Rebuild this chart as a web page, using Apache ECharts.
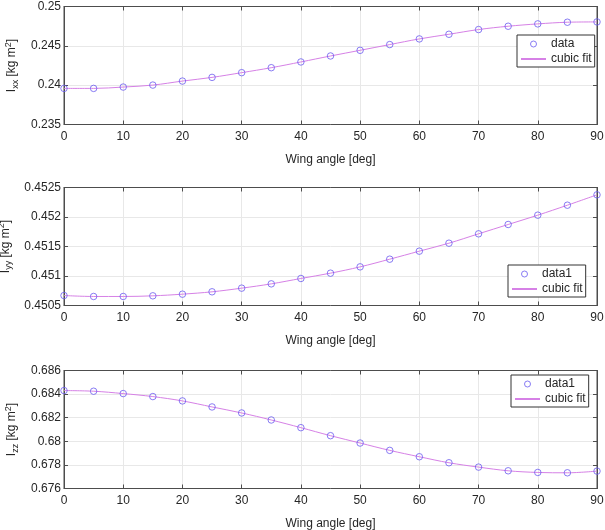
<!DOCTYPE html>
<html><head><meta charset="utf-8">
<script src="https://cdn.jsdelivr.net/npm/echarts@6/dist/echarts.min.js"></script>
<style>html,body{margin:0;padding:0;background:#fff}#c{width:605px;height:530px}</style>
</head><body><div id="c"></div>
<script>
const angles = [0,5,10,15,20,25,30,35,40,45,50,55,60,65,70,75,80,85,90];
const ixx = [0.23959,0.23959,0.23976,0.24001,0.24052,0.24099,0.24159,0.24222,0.24295,0.24371,0.24443,0.24516,0.24588,0.24647,0.24707,0.24749,0.24779,0.24800,0.24804];
const iyy = [0.450669,0.450653,0.450653,0.450664,0.450692,0.450732,0.450794,0.450867,0.450958,0.451048,0.451155,0.451285,0.451421,0.451556,0.451715,0.451873,0.452031,0.452200,0.452376];
const izz = [0.684300,0.684244,0.684045,0.683790,0.683422,0.682912,0.682402,0.681807,0.681156,0.680476,0.679853,0.679230,0.678691,0.678181,0.677813,0.677501,0.677360,0.677331,0.677473];
const yLimits = [[0.235,0.25,0.005],[0.4505,0.4525,0.0005],[0.676,0.686,0.002]];
const yNames = ['xx','yy','zz'];
const legendNames = [['data','cubic fit'],['data1','cubic fit'],['data1','cubic fit']];
const xLabel = 'Wing angle [deg]';

const FONT = 'Liberation Sans, Arial, Helvetica, sans-serif';
const AX = '#4d4d4d';
const TXT = '#262626';
const MK = '#6b5cf0';
const LN = '#d681e6';
const grids = [
  {left:64, right:8, top:6.5, height:118},
  {left:64, right:8, top:187.5, height:118},
  {left:64, right:8, top:370.5, height:118}
];
const legendPos = [
  {left:517, top:35},
  {left:508, top:265},
  {left:511, top:375}
];
const xAxis=[], yAxis=[], series=[], legend=[];
function trimNum(v){ return String(parseFloat(v.toFixed(6))); }
const tick={show:true,inside:true,length:4,lineStyle:{color:AX}};
const mkStyle={color:'rgba(255,255,255,0)',borderColor:MK,borderWidth:1};
grids.forEach((g,i)=>{
  const [ymin,ymax,yint]=yLimits[i];
  xAxis.push({type:'value',gridIndex:i,position:'bottom',min:0,max:90,interval:10,
    axisLine:{onZero:false,lineStyle:{color:AX,width:1}},axisTick:tick,
    axisLabel:{color:TXT,fontFamily:FONT,fontSize:12,margin:6},
    splitLine:{show:true,lineStyle:{color:'#e8e8e8',width:1}},
    name:xLabel,nameLocation:'middle',nameGap:29,nameTextStyle:{color:TXT,fontFamily:FONT,fontSize:12}});
  xAxis.push({type:'value',gridIndex:i,position:'top',min:0,max:90,interval:10,
    axisLine:{onZero:false,lineStyle:{color:AX,width:1}},axisTick:tick,
    axisLabel:{show:false},splitLine:{show:false}});
  yAxis.push({type:'value',gridIndex:i,position:'left',min:ymin,max:ymax,interval:yint,
    axisLine:{show:true,onZero:false,lineStyle:{color:AX,width:1}},axisTick:tick,
    axisLabel:{color:TXT,fontFamily:FONT,fontSize:12,margin:3,formatter:v=>trimNum(v)},
    splitLine:{show:true,lineStyle:{color:'#e8e8e8',width:1}},
    name:'I{sub|'+yNames[i]+'} [kg m{sup|2}]',nameLocation:'middle',nameGap:44,nameRotate:90,
    nameTextStyle:{color:TXT,fontFamily:FONT,fontSize:12,
      rich:{sub:{fontSize:9,fontFamily:FONT,color:TXT,verticalAlign:'bottom',padding:[7,0,0,0]},
            sup:{fontSize:9,fontFamily:FONT,color:TXT,verticalAlign:'top',padding:[0,0,7,0]}}}});
  yAxis.push({type:'value',gridIndex:i,position:'right',min:ymin,max:ymax,interval:yint,
    axisLine:{show:true,onZero:false,lineStyle:{color:AX,width:1}},axisTick:tick,
    axisLabel:{show:false},splitLine:{show:false}});
  const vals=[ixx,iyy,izz][i];
  const pts=angles.map((a,k)=>[a,vals[k]]);
  series.push({name:legendNames[i][0],type:'scatter',xAxisIndex:2*i,yAxisIndex:2*i,data:pts,
    symbol:'circle',symbolSize:6.5,itemStyle:mkStyle,z:4,silent:true});
  series.push({name:'cubic fit',type:'line',xAxisIndex:2*i,yAxisIndex:2*i,data:pts,smooth:0.35,
    symbol:'none',showSymbol:false,lineStyle:{color:LN,width:1},itemStyle:{color:LN},z:3,silent:true});
  legend.push({orient:'vertical',left:legendPos[i].left,top:legendPos[i].top,
    data:[{name:legendNames[i][0],icon:'circle',itemStyle:mkStyle},
          {name:'cubic fit',itemStyle:{opacity:0}}],
    itemWidth:25,itemHeight:6,itemGap:3,padding:[3,3,2,3],
    backgroundColor:'#fff',borderColor:'#333',borderWidth:1,borderRadius:0,
    textStyle:{color:TXT,fontFamily:FONT,fontSize:12},selectedMode:false});
});
const chart=echarts.init(document.getElementById('c'),null,{renderer:'canvas'});
chart.setOption({animation:false,backgroundColor:'#fff',
  grid:grids.map(g=>Object.assign({show:true,borderColor:AX,borderWidth:1,backgroundColor:'#fff',containLabel:false,outerBoundsMode:'none'},g)),
  xAxis,yAxis,series,legend});
</script></body></html>
